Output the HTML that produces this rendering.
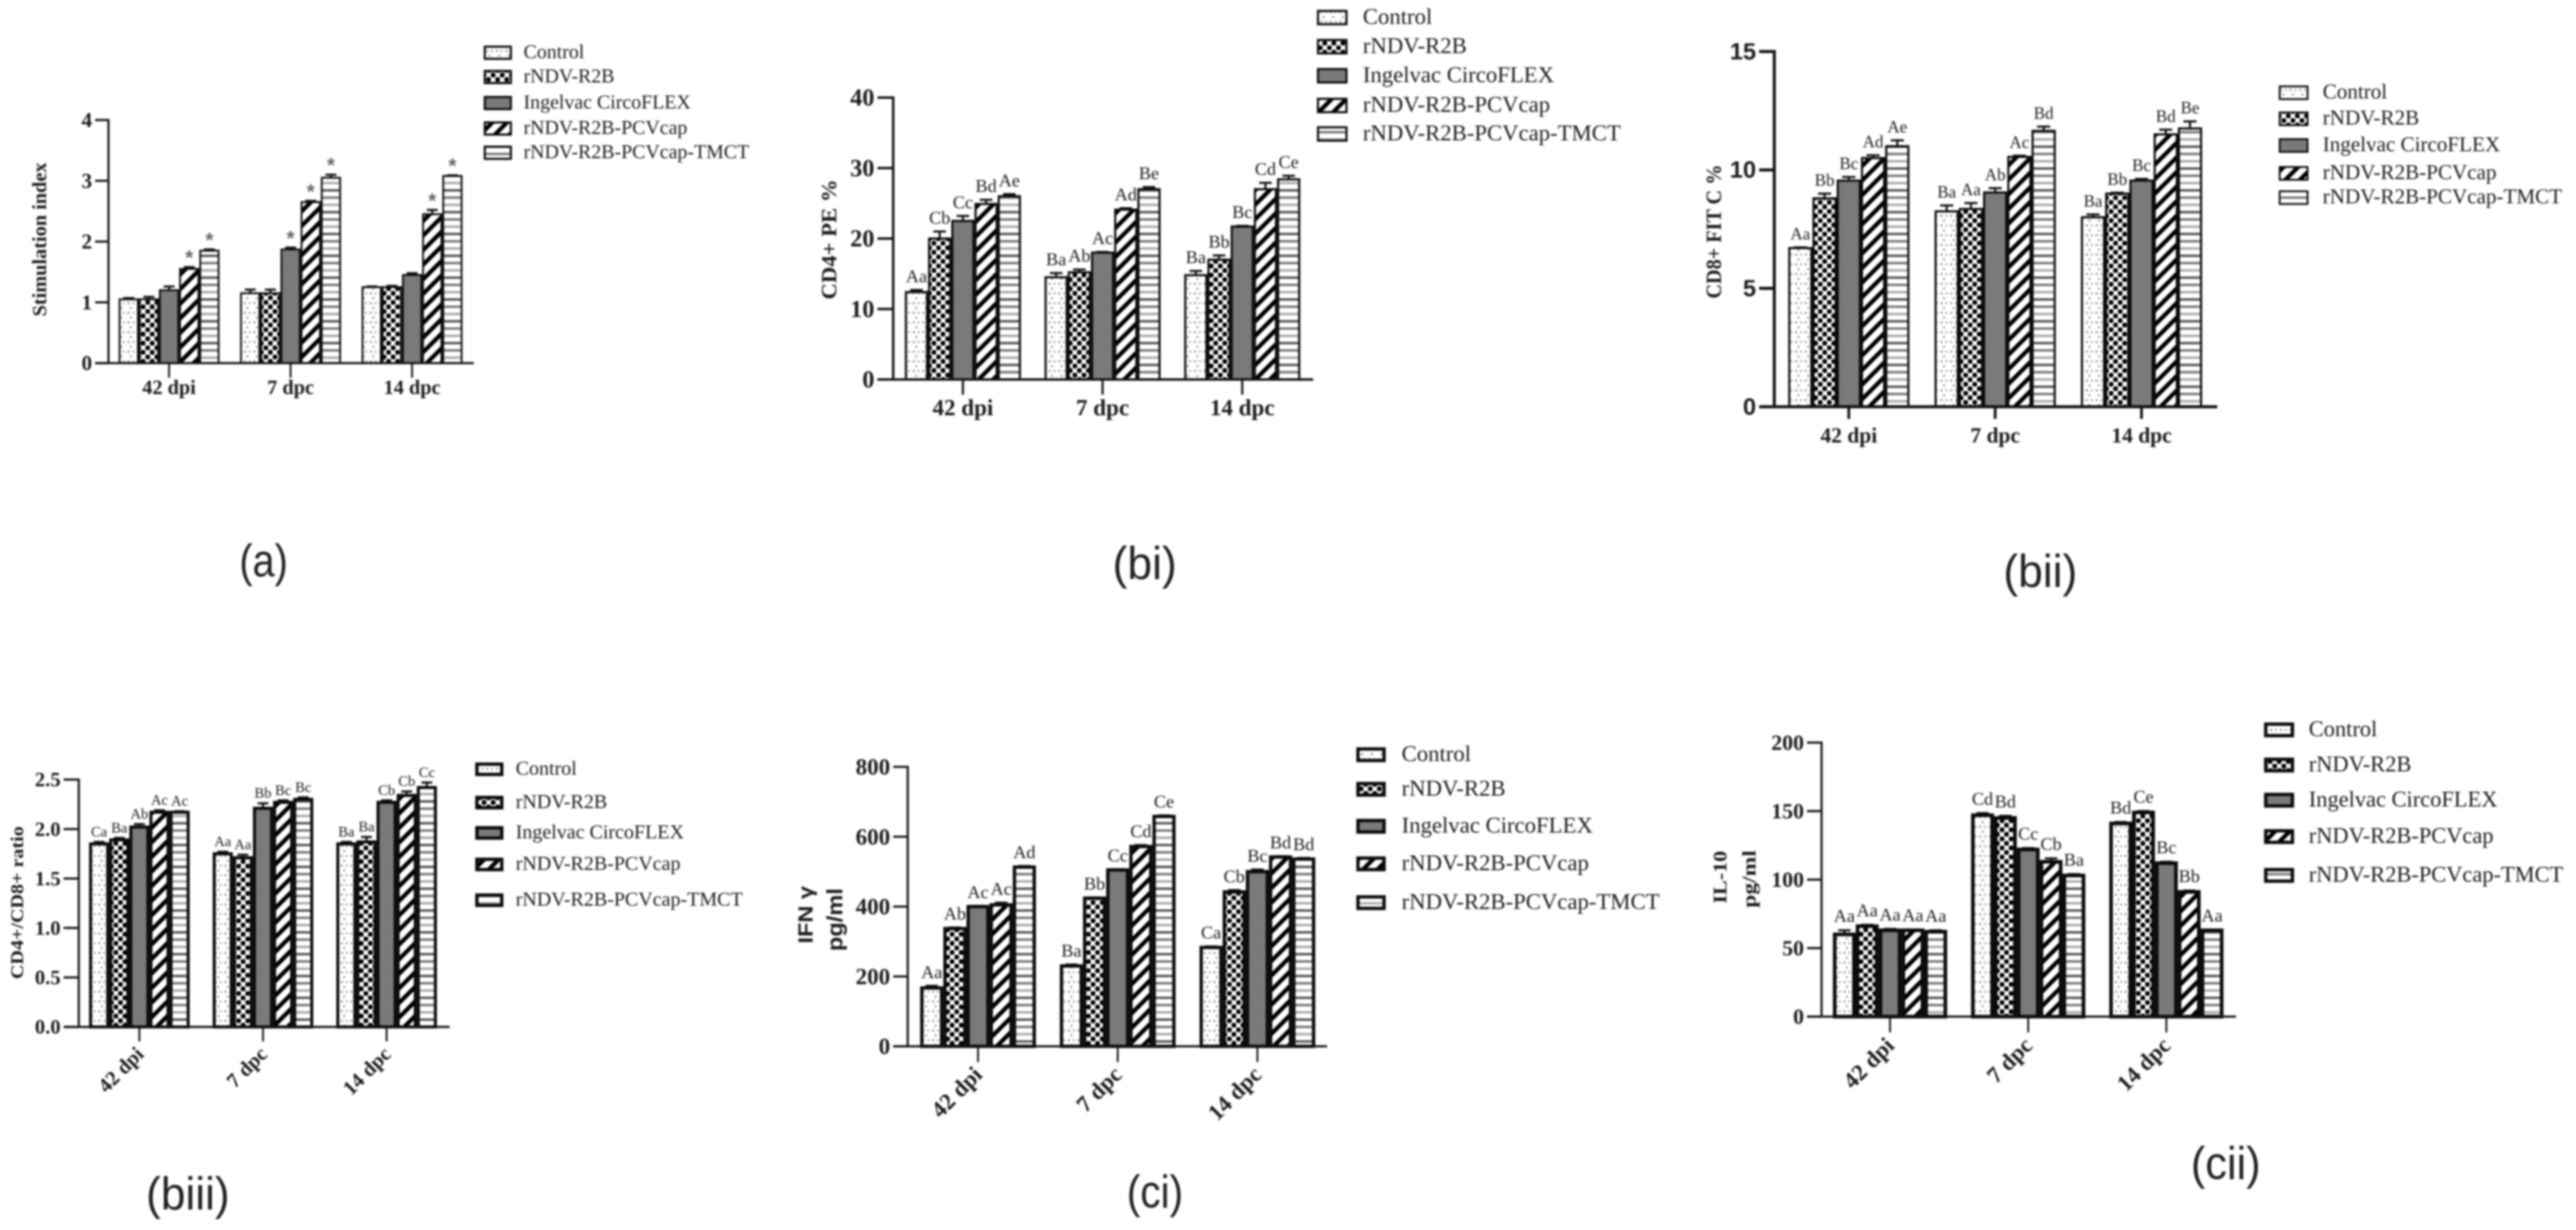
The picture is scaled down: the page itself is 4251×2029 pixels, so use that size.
<!DOCTYPE html>
<html lang="en">
<head>
<meta charset="utf-8">
<title>Immune response bar charts</title>
<style>
html,body{margin:0;padding:0;background:#fff;width:4251px;height:2029px;overflow:hidden}
svg{display:block;filter:blur(1.5px)}
text{fill:#1c1c1c}
</style>
</head>
<body>
<svg id="figure" xmlns="http://www.w3.org/2000/svg" width="4251" height="2029" viewBox="0 0 4251 2029">
  <defs>
    <pattern id="p-control" patternUnits="userSpaceOnUse" width="16" height="16">
      <rect width="16" height="16" fill="#fff"/>
      <circle cx="4" cy="4" r="1.9" fill="#9a9a9a"/><circle cx="12" cy="4" r="1.9" fill="#b0b0b0"/>
      <circle cx="8" cy="12" r="1.9" fill="#a2a2a2"/>
    </pattern>
    <pattern id="p-r2b" patternUnits="userSpaceOnUse" width="15" height="15">
      <rect width="15" height="15" fill="#fff"/>
      <circle cx="3.75" cy="3.75" r="4.2" fill="#000"/><circle cx="11.25" cy="11.25" r="4.2" fill="#000"/>
    </pattern>
    <pattern id="p-circo" patternUnits="userSpaceOnUse" width="6" height="6">
      <rect width="6" height="6" fill="#8a8a8a"/>
      <circle cx="1.5" cy="1.5" r="1.2" fill="#4a4a4a"/><circle cx="4.5" cy="4.5" r="1.2" fill="#4a4a4a"/>
    </pattern>
    <pattern id="p-pcv" patternUnits="userSpaceOnUse" width="17" height="17" patternTransform="rotate(45)">
      <rect width="17" height="17" fill="#fff"/><rect width="7" height="17" fill="#000"/>
    </pattern>
    <pattern id="p-tmct" patternUnits="userSpaceOnUse" width="12" height="36">
      <rect width="12" height="36" fill="#fff"/>
      <rect y="0" width="12" height="4" fill="#777"/>
      <rect y="12" width="12" height="4" fill="#aaa"/>
      <rect y="24" width="12" height="4" fill="#555"/>
    </pattern>
  </defs>
  <g id="root"></g>
</svg>
<script>
// Shared chart data
const categories = ['42 dpi', '7 dpc', '14 dpc'];
const seriesNames = ['Control', 'rNDV-R2B', 'Ingelvac CircoFLEX', 'rNDV-R2B-PCVcap', 'rNDV-R2B-PCVcap-TMCT'];

// (a) Stimulation index — each row is a series, each column a time point
const aTicks = ['0', '1', '2', '3', '4'];
const aControl = [1.05, 1.15, 1.25];
const aR2B = [1.05, 1.15, 1.25];
const aCirco = [1.2, 1.87, 1.45];
const aPcv = [1.55, 2.65, 2.45];
const aTmct = [1.85, 3.05, 3.08];
const aErrors = [[0.02, 0.06, 0.01], [0.04, 0.06, 0.02], [0.06, 0.03, 0.03], [0.03, 0.02, 0.07], [0.02, 0.05, 0.01]];
const aLetters = [['', '', ''], ['', '', ''], ['', '*', ''], ['*', '*', '*'], ['*', '*', '*']];

// (bi) CD4+ PE %
const biTicks = ['0', '10', '20', '30', '40'];
const biControl = [12.4, 14.5, 14.8];
const biR2B = [20, 15.2, 17];
const biCirco = [22.5, 18, 21.7];
const biPcv = [24.9, 24.1, 27];
const biTmct = [26, 27, 28.4];
const biErrors = [[0.3, 0.6, 0.6], [1.0, 0.4, 0.6], [0.7, 0.1, 0.1], [0.6, 0.2, 0.9], [0.3, 0.3, 0.5]];
const biLetters = [['Aa', 'Ba', 'Ba'], ['Cb', 'Ab', 'Bb'], ['Cc', 'Ac', 'Bc'], ['Bd', 'Ad', 'Cd'], ['Ae', 'Be', 'Ce']];

// (bii) CD8+ FITC %
const biiTicks = ['0', '5', '10', '15'];
const biiControl = [6.7, 8.25, 8];
const biiR2B = [8.8, 8.35, 9];
const biiCirco = [9.55, 9.05, 9.55];
const biiPcv = [10.5, 10.55, 11.5];
const biiTmct = [11, 11.65, 11.75];
const biiErrors = [[0.03, 0.25, 0.12], [0.2, 0.25, 0.04], [0.15, 0.18, 0.07], [0.12, 0.05, 0.2], [0.25, 0.18, 0.3]];
const biiLetters = [['Aa', 'Ba', 'Ba'], ['Bb', 'Aa', 'Bb'], ['Bc', 'Ab', 'Bc'], ['Ad', 'Ac', 'Bd'], ['Ae', 'Bd', 'Be']];

// (biii) CD4+/CD8+ ratio
const biiiTicks = ['0.0', '0.5', '1.0', '1.5', '2.0', '2.5'];
const biiiControl = [1.85, 1.75, 1.85];
const biiiR2B = [1.89, 1.71, 1.87];
const biiiCirco = [2.02, 2.21, 2.27];
const biiiPcv = [2.17, 2.27, 2.34];
const biiiTmct = [2.17, 2.3, 2.42];
const biiiErrors = [[0.02, 0.02, 0.02], [0.02, 0.03, 0.05], [0.03, 0.05, 0.02], [0.02, 0.02, 0.04], [0.01, 0.02, 0.05]];
const biiiLetters = [['Ca', 'Aa', 'Ba'], ['Ba', 'Aa', 'Ba'], ['Ab', 'Bb', 'Cb'], ['Ac', 'Bc', 'Cb'], ['Ac', 'Bc', 'Cc']];

// (ci) IFN gamma pg/ml
const ciTicks = ['0', '200', '400', '600', '800'];
const ciControl = [167, 230, 283];
const ciR2B = [337, 424, 442];
const ciCirco = [400, 505, 500];
const ciPcv = [405, 572, 542];
const ciTmct = [513, 658, 536];
const ciErrors = [[6, 4, 3], [3, 2, 5], [2, 2, 6], [6, 4, 2], [3, 3, 3]];
const ciLetters = [['Aa', 'Ba', 'Ca'], ['Ab', 'Bb', 'Cb'], ['Ac', 'Cc', 'Bc'], ['Ac', 'Cd', 'Bd'], ['Ad', 'Ce', 'Bd']];

// (cii) IL-10 pg/ml
const ciiTicks = ['0', '50', '100', '150', '200'];
const ciiControl = [60, 147, 141];
const ciiR2B = [66, 145, 149];
const ciiCirco = [63, 122, 112];
const ciiPcv = [63, 113, 91];
const ciiTmct = [62, 103, 63];
const ciiErrors = [[3, 1.5, 1], [1, 1.5, 1], [1, 1, 1], [0.5, 2.5, 1], [1, 1, 0.3]];
const ciiLetters = [['Aa', 'Cd', 'Bd'], ['Aa', 'Bd', 'Ce'], ['Aa', 'Cc', 'Bc'], ['Aa', 'Cb', 'Bb'], ['Aa', 'Ba', 'Aa']];

const SVGNS = 'http://www.w3.org/2000/svg';
const SERIF = '"Liberation Serif", serif';
const SANS = '"Liberation Sans", sans-serif';
const fills = ['url(#p-control)', 'url(#p-r2b)', 'url(#p-circo)', 'url(#p-pcv)', 'url(#p-tmct)'];
const root = document.getElementById('root');

function mk(parent, tag, attrs) {
  const el = document.createElementNS(SVGNS, tag);
  for (const k in attrs) el.setAttribute(k, attrs[k]);
  parent.appendChild(el);
  return el;
}
function txt(parent, s, attrs) {
  const el = mk(parent, 'text', attrs);
  el.textContent = s;
  return el;
}

function drawPanel(p) {
  const g = mk(root, 'g', {});
  
  

  const yMax = Number(p.ticks[p.ticks.length - 1]);
  const yScale = v => p.yBase - (v / yMax) * (p.yBase - p.yTop);
  const groupX = i => p.first + i * p.step;

  // bars, error bars and letters
  p.values.forEach((series, s) => {
    series.forEach((v, c) => {
      const left = groupX(c) + (s - 2.5) * p.barW;
      const mid = left + p.barW / 2;
      const top = yScale(v);
      const errTop = yScale(v + p.errors[s][c]);

      const stem = mk(g, 'line', { x1: mid, x2: mid, y1: top, y2: errTop, stroke: '#111', 'stroke-width': 3.5 });
      
      
      const cap = mk(g, 'line', { x1: mid - p.barW * 0.27, x2: mid + p.barW * 0.27, y1: errTop, y2: errTop, stroke: '#111', 'stroke-width': 3.5 });
      
      

      const bar = mk(g, 'rect', {
        x: left + p.sw / 2, y: top, width: p.barW - p.sw, height: p.yBase - top,
        fill: fills[s], stroke: '#0a0a0a', 'stroke-width': p.sw
      });
      
      

      const letter = p.letters[s][c];
      if (letter) {
        const star = letter === '*';
        const lab = txt(g, letter, {
          x: mid, y: star ? errTop - 4 : errTop - p.letterGap, 'text-anchor': 'middle',
          'font-family': star ? SANS : SERIF, 'font-size': star ? 34 : p.letterSize,
          'font-weight': star ? 'bold' : 'normal', style: star ? 'fill:#666' : ''
        });
        
        
      }
    });
  });

  // axes
  const yAxis = mk(g, 'line', { x1: p.x0, x2: p.x0, y1: p.yTop - p.axisW / 2, y2: p.yBase, stroke: '#111', 'stroke-width': p.axisW });
  
  
  const xAxis = mk(g, 'line', { x1: p.x0 - p.tickLen, x2: p.xEnd, y1: p.yBase, y2: p.yBase, stroke: '#111', 'stroke-width': p.axisW });
  
  

  p.ticks.forEach(t => {
    const y = yScale(Number(t));
    const tick = mk(g, 'line', { x1: p.x0 - p.tickLen, x2: p.x0, y1: y, y2: y, stroke: '#111', 'stroke-width': p.axisW });
    
    
    const lab = txt(g, t, {
      x: p.x0 - p.tickLen - 5, y: y + p.tickSize * 0.33, 'text-anchor': 'end',
      'font-family': p.tickFont || SERIF, 'font-size': p.tickSize, 'font-weight': 'bold'
    });
    
    
  });

  categories.forEach((cat, i) => {
    const x = groupX(i);
    const tick = mk(g, 'line', { x1: x, x2: x, y1: p.yBase, y2: p.yBase + p.xTickLen, stroke: '#111', 'stroke-width': p.axisW - 0.5 });
    
    
    const attrs = { 'font-family': SERIF, 'font-size': p.xSize, 'font-weight': 'bold' };
    if (p.xRot) {
      attrs['text-anchor'] = 'end';
      attrs.transform = 'translate(' + (x + 9) + ' ' + p.xLabelY + ') rotate(-45)';
    } else {
      attrs['text-anchor'] = 'middle';
      attrs.x = x;
      attrs.y = p.xLabelY;
    }
    const lab = txt(g, cat, attrs);
    
    
  });

  // y titles (one or two lines)
  p.titles.forEach(t => {
    const lab = txt(g, t.s, {
      transform: 'translate(' + t.x + ' ' + t.y + ') rotate(-90)', 'text-anchor': 'middle',
      'font-family': t.font || SERIF, 'font-size': t.size, 'font-weight': 'bold',
      textLength: t.len, lengthAdjust: 'spacingAndGlyphs'
    });
    
    
  });

  // legend
  seriesNames.forEach((name, s) => {
    const rowY = p.legendRows[s];
    const item = mk(g, 'g', {});
    
    
    const sw = mk(item, 'rect', {
      x: p.legX, y: rowY - p.swH / 2, width: p.swW, height: p.swH,
      fill: fills[s], stroke: '#0a0a0a', 'stroke-width': p.legSw
    });
    
    
    const lab = txt(item, name, {
      x: p.legTextX, y: rowY + p.legSize * 0.28,
      'font-family': SERIF, 'font-size': p.legSize
    });
    
    
  });

  // panel caption
  const cap = txt(g, p.caption.s, {
    x: p.caption.x, y: p.caption.y + 24, 'text-anchor': 'middle',
    'font-family': SANS, 'font-size': 76, textLength: p.caption.len, lengthAdjust: 'spacingAndGlyphs',
    style: 'fill:#222'
  });
  
  
}

drawPanel({
  id: 'panel-a', ticks: aTicks, values: [aControl, aR2B, aCirco, aPcv, aTmct], errors: aErrors, letters: aLetters,
  x0: 179, yBase: 599, yTop: 198, xEnd: 782, tickLen: 22, xTickLen: 24, first: 279, step: 200.5, barW: 33.3, sw: 3, axisW: 3.5,
  tickSize: 35, xSize: 33.5, xLabelY: 650, letterSize: 30, letterGap: 8,
  titles: [{ s: 'Stimulation index', x: 76, y: 395, size: 33, len: 254 }],
  legX: 800, legTextX: 864, swW: 43, swH: 20, legSw: 3.5, legSize: 32.8, legendRows: [87, 127, 170, 212, 252],
  caption: { s: '(a)', x: 435, y: 927, len: 80 }
});

drawPanel({
  id: 'panel-bi', ticks: biTicks, values: [biControl, biR2B, biCirco, biPcv, biTmct], errors: biErrors, letters: biLetters,
  x0: 1474, yBase: 626, yTop: 161, xEnd: 2167, tickLen: 26, xTickLen: 25, first: 1589, step: 230.5, barW: 38.3, sw: 3.5, axisW: 4,
  tickSize: 40, xSize: 38, xLabelY: 685, letterSize: 30, letterGap: 13,
  titles: [{ s: 'CD4+ PE %', x: 1380, y: 395, size: 36, len: 198 }],
  legX: 2175, legTextX: 2249, swW: 47, swH: 22, legSw: 3.5, legSize: 37.5, legendRows: [29, 77, 125, 174, 221],
  caption: { s: '(bi)', x: 1889, y: 931, len: 106 }
});

drawPanel({
  id: 'panel-bii', ticks: biiTicks, values: [biiControl, biiR2B, biiCirco, biiPcv, biiTmct], errors: biiErrors, letters: biiLetters,
  x0: 2928, yBase: 671, yTop: 85, xEnd: 3659, tickLen: 25, xTickLen: 20, first: 3051, step: 241.5, barW: 40, sw: 3.5, axisW: 5,
  tickSize: 39, tickFont: SANS, xSize: 35.5, xLabelY: 730, letterSize: 28, letterGap: 13,
  titles: [{ s: 'CD8+ FIT C %', x: 2840, y: 382, size: 36, len: 221 }],
  legX: 3762, legTextX: 3833, swW: 46, swH: 21, legSw: 3, legSize: 34.8, legendRows: [153, 196, 240, 286, 326],
  caption: { s: '(bii)', x: 3367, y: 944, len: 122 }
});

drawPanel({
  id: 'panel-biii', ticks: biiiTicks, values: [biiiControl, biiiR2B, biiiCirco, biiiPcv, biiiTmct], errors: biiiErrors, letters: biiiLetters,
  x0: 130, yBase: 1694, yTop: 1286, xEnd: 742, tickLen: 25, xTickLen: 24, first: 230, step: 204, barW: 33.2, sw: 5, axisW: 3.5,
  tickSize: 34, xSize: 34, xRot: true, xLabelY: 1741, letterSize: 24, letterGap: 9,
  titles: [{ s: 'CD4+/CD8+ ratio', x: 38, y: 1489, size: 30, len: 252 }],
  legX: 787, legTextX: 851, swW: 41, swH: 17, legSw: 5.5, legSize: 33, legendRows: [1269, 1324, 1374, 1426, 1485],
  caption: { s: '(biii)', x: 310, y: 1971, len: 138 }
});

drawPanel({
  id: 'panel-ci', ticks: ciTicks, values: [ciControl, ciR2B, ciCirco, ciPcv, ciTmct], errors: ciErrors, letters: ciLetters,
  x0: 1498, yBase: 1726, yTop: 1265, xEnd: 2190, tickLen: 24, xTickLen: 26, first: 1614, step: 230.5, barW: 38.2, sw: 5.5, axisW: 3.5,
  tickSize: 38, xSize: 38, xRot: true, xLabelY: 1775, letterSize: 30, letterGap: 13,
  titles: [
    { s: 'IFN γ', x: 1341, y: 1509, size: 34, font: SANS, len: 95 },
    { s: 'pg/ml', x: 1390, y: 1517, size: 36, font: SANS, len: 104 }
  ],
  legX: 2241, legTextX: 2313, swW: 43, swH: 19, legSw: 5.5, legSize: 37.5, legendRows: [1245, 1302, 1363, 1425, 1489],
  caption: { s: '(ci)', x: 1906, y: 1968, len: 93 }
});

drawPanel({
  id: 'panel-cii', ticks: ciiTicks, values: [ciiControl, ciiR2B, ciiCirco, ciiPcv, ciiTmct], errors: ciiErrors, letters: ciiLetters,
  x0: 3006, yBase: 1677, yTop: 1225, xEnd: 3690, tickLen: 24, xTickLen: 26, first: 3119, step: 228, barW: 37.7, sw: 6, axisW: 3.5,
  tickSize: 36, xSize: 38, xRot: true, xLabelY: 1727, letterSize: 30, letterGap: 14,
  titles: [
    { s: 'IL-10', x: 2849, y: 1447, size: 32, len: 87 },
    { s: 'pg/ml', x: 2897, y: 1450, size: 32, len: 95 }
  ],
  legX: 3739, legTextX: 3810, swW: 44, swH: 19, legSw: 5.5, legSize: 37, legendRows: [1204, 1262, 1320, 1380, 1444],
  caption: { s: '(cii)', x: 3673, y: 1921, len: 115 }
});
</script>
</body>
</html>
